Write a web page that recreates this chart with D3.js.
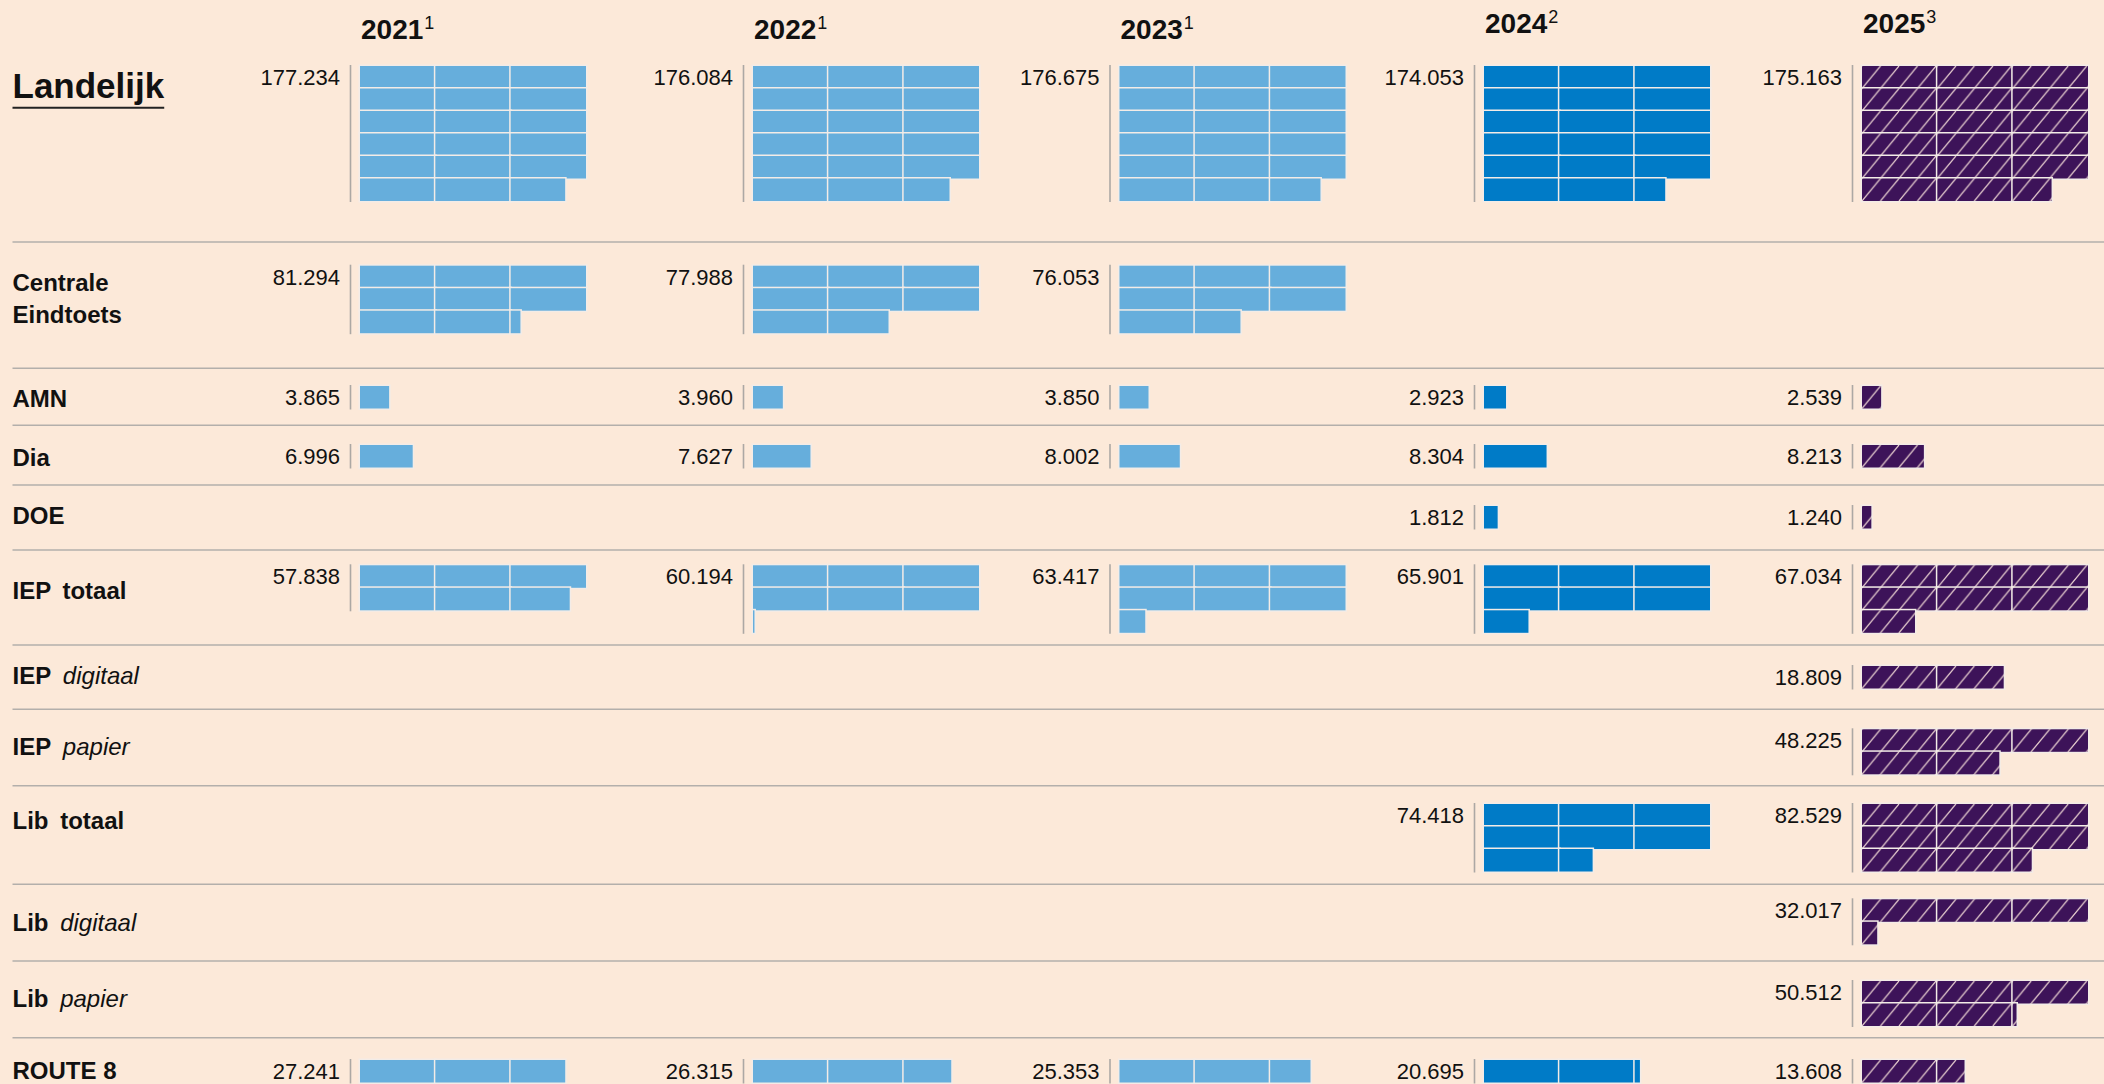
<!DOCTYPE html>
<html>
<head>
<meta charset="utf-8">
<script src="https://cdn.jsdelivr.net/npm/d3@7"></script>
<style>
  html, body { margin: 0; padding: 0; background: #fce9d9; overflow: hidden; }
  svg { display: block; }
  text { font-family: "Liberation Sans", Arial, sans-serif; }
</style>
</head>
<body>
<svg id="chart" width="2104" height="1084"></svg>
<script>
// ---------------- DATA ----------------
const years = ["2021", "2022", "2023", "2024", "2025"];
const yearNotes = ["1", "1", "1", "2", "3"];
const categories = [
  "Landelijk", "Centrale Eindtoets", "AMN", "Dia", "DOE", "IEP totaal",
  "IEP digitaal", "IEP papier", "Lib totaal", "Lib digitaal", "Lib papier", "ROUTE 8"
];
// values per category, one entry per year (null = no data)
const landelijk         = [177234, 176084, 176675, 174053, 175163];
const centraleEindtoets = [81294, 77988, 76053, null, null];
const amn               = [3865, 3960, 3850, 2923, 2539];
const dia               = [6996, 7627, 8002, 8304, 8213];
const doe               = [null, null, null, 1812, 1240];
const iepTotaal         = [57838, 60194, 63417, 65901, 67034];
const iepDigitaal       = [null, null, null, null, 18809];
const iepPapier         = [null, null, null, null, 48225];
const libTotaal         = [null, null, null, 74418, 82529];
const libDigitaal       = [null, null, null, null, 32017];
const libPapier         = [null, null, null, null, 50512];
const route8            = [27241, 26315, 25353, 20695, 13608];
const seriesValues = [landelijk, centraleEindtoets, amn, dia, doe, iepTotaal,
  iepDigitaal, iepPapier, libTotaal, libDigitaal, libPapier, route8];

const cellUnit = 10000;   // one block = 10.000 leerlingen
const cellsPerRow = 3;

// ---------------- LAYOUT / STYLE ----------------
const W = 2104, H = 1084;
const colX = [360, 753, 1119.5, 1484, 1862];          // bar start of each year column
const titleY = [39.3, 39.3, 39.3, 33.3, 33.3];
const sepY = [242, 368.3, 425.3, 485, 550, 645, 709.3, 785.7, 884.3, 961, 1037.7];
const barTop = [66, 265.7, 386, 445, 506, 565.3, 666, 729.3, 804, 899.3, 981, 1060];
const labelY = [98.3, 291, 407.3, 466, 524, 599.3, 684.3, 755, 829, 931, 1006.7, 1079.3];
const rowPitch = 22.5;
const rowWidth = 226;
const colors = ["#66aedc", "#66aedc", "#66aedc", "#007bc7", "#3d1359"];
const hatched = [false, false, false, false, true];
const hatchW = 18.5;

const nl = d3.formatLocale({decimal: ",", thousands: ".", grouping: [3], currency: ["€", ""]});
const fmt = nl.format(",d");

const x = d3.scaleLinear().domain([0, cellUnit * cellsPerRow]).range([0, rowWidth]);

const svg = d3.select("#chart");
svg.append("rect").attr("width", W).attr("height", H).attr("fill", "#fce9d9");
const defs = svg.append("defs");

// separators
svg.append("g").selectAll("line").data(sepY).join("line")
  .attr("x1", 12.5).attr("x2", W).attr("y1", d => d).attr("y2", d => d)
  .attr("stroke", "#b3afab").attr("stroke-width", 1.6);

// year titles
const tg = svg.append("g");
years.forEach((y, i) => {
  const t = tg.append("text").attr("x", colX[i] + 1).attr("y", titleY[i])
    .attr("font-size", 28).attr("font-weight", "bold").attr("fill", "#111");
  t.append("tspan").text(y);
  t.append("tspan").attr("font-size", 18).attr("font-weight", "normal")
    .attr("dx", 1).attr("dy", -10).text(yearNotes[i]);
});

// category labels
const lg = svg.append("g").attr("fill", "#111");
categories.forEach((c, r) => {
  if (r === 0) {
    const t = lg.append("text").attr("x", 12.5).attr("y", labelY[r])
      .attr("font-size", 35).attr("font-weight", "bold").text(c);
    const bw = t.node().getComputedTextLength();
    lg.append("line").attr("x1", 12.5).attr("x2", 12.5 + bw)
      .attr("y1", 107.7).attr("y2", 107.7).attr("stroke", "#222").attr("stroke-width", 2);
    return;
  }
  if (c === "Centrale Eindtoets") {
    const t = lg.append("text").attr("x", 12.5).attr("y", labelY[r])
      .attr("font-size", 24).attr("font-weight", "bold");
    t.append("tspan").attr("x", 12.5).text("Centrale");
    t.append("tspan").attr("x", 12.5).attr("dy", 31.7).text("Eindtoets");
    return;
  }
  const parts = c.split(" ");
  const t = lg.append("text").attr("x", 12.5).attr("y", labelY[r])
    .attr("font-size", 24).attr("font-weight", "bold")
    .style("white-space", "pre");
  if (parts.length === 2 && (parts[1] === "digitaal" || parts[1] === "papier" || parts[1] === "totaal")) {
    t.append("tspan").text(parts[0]);
    const s = t.append("tspan").attr("dx", 5).text(" " + parts[1]);
    if (parts[1] !== "totaal") s.attr("font-style", "italic").attr("font-weight", "normal");
  } else {
    t.text(c);
  }
});

// bars
const bg = svg.append("g");
let patId = 0;
seriesValues.forEach((vals, r) => {
  vals.forEach((v, i) => {
    if (v == null) return;
    const nCells = Math.ceil(v / cellUnit);
    const nRows = Math.ceil(nCells / cellsPerRow);
    const cells = d3.range(nCells).map(k => ({
      k, row: Math.floor(k / cellsPerRow), col: k % cellsPerRow,
      val: Math.min(cellUnit, v - k * cellUnit)
    }));
    cells.forEach(d => {
      d.cx = colX[i] + x(d.col * cellUnit);
      d.cy = barTop[r] + d.row * rowPitch;
      if (hatched[i]) {
        d.pid = "hatch" + (patId++);
        const p = defs.append("pattern").attr("id", d.pid)
          .attr("patternUnits", "userSpaceOnUse")
          .attr("x", d.cx).attr("y", d.cy)
          .attr("width", hatchW).attr("height", rowPitch);
        p.append("rect").attr("width", hatchW).attr("height", rowPitch).attr("fill", colors[i]);
        p.append("path")
          .attr("d", `M-${hatchW},${rowPitch} L0,0 M0,${rowPitch} L${hatchW},0 M${hatchW},${rowPitch} L${2 * hatchW},0`)
          .attr("stroke", "#ecd3d2").attr("stroke-width", 1.2);
      }
    });
    const g = bg.append("g");
    // axis line
    g.append("line")
      .attr("x1", colX[i] - 9.5).attr("x2", colX[i] - 9.5)
      .attr("y1", barTop[r] - 1).attr("y2", barTop[r] + nRows * rowPitch + 1)
      .attr("stroke", "#aca8a4").attr("stroke-width", 1.6);
    g.selectAll("rect").data(cells).join("rect")
      .attr("x", d => d.cx)
      .attr("y", d => d.cy)
      .attr("width", d => x(d.val))
      .attr("height", rowPitch)
      .attr("fill", d => hatched[i] ? `url(#${d.pid})` : colors[i])
      .attr("stroke", "#f3ece7").attr("stroke-width", 3)
      .style("paint-order", "stroke");
    g.append("text")
      .attr("x", colX[i] - 20).attr("y", barTop[r] + 19)
      .attr("text-anchor", "end").attr("font-size", 22).attr("fill", "#111")
      .text(fmt(v));
  });
});
</script>
</body>
</html>
